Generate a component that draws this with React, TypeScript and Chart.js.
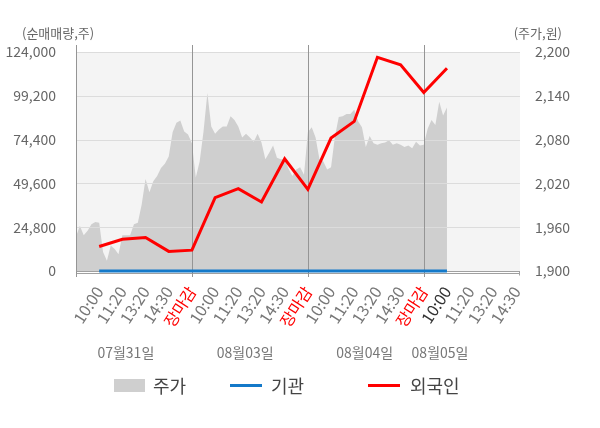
import React, { useEffect, useRef } from 'react';
import { Chart, registerables } from 'chart.js';

Chart.register(...registerables);

// label slots on the x axis (one per red/blue point)
const X_LABELS = [
    '10:00', '11:20', '13:20', '14:30', '장마감',
    '10:00', '11:20', '13:20', '14:30', '장마감',
    '10:00', '11:20', '13:20', '14:30', '장마감',
    '10:00', '11:20', '13:20', '14:30',
];
const DAY_LABELS = ['07월31일', '08월03일', '08월04일', '08월05일'];

// 주가 (원), 6 samples per label slot, starting at the market open of day 1
const PRICE = [
    1947, 1962, 1949, 1955, 1964, 1967, 1966, 1926, 1914, 1935,
    1930, 1923, 1949, 1949, 1949, 1964, 1966, 1991, 2026, 2008,
    2023, 2030, 2041, 2047, 2057, 2090, 2103, 2106, 2091, 2087,
    2075, 2028, 2050, 2091, 2144, 2098, 2088, 2094, 2098, 2098,
    2112, 2107, 2098, 2083, 2088, 2083, 2077, 2088, 2076, 2053,
    2062, 2072, 2055, 2053, 2053, 2040, 2030, 2039, 2042, 2032,
    2090, 2097, 2083, 2053, 2050, 2039, 2042, 2084, 2111, 2112,
    2115, 2115, 2121, 2105, 2097, 2070, 2085, 2075, 2073, 2075,
    2076, 2079, 2073, 2075, 2073, 2070, 2072, 2068, 2077, 2072,
    2073, 2095, 2107, 2100, 2132, 2113, 2124,
];
const SAMPLES_PER_SLOT = 6;

// 순매매량 (주), one value per label slot from the first 10:00
const INSTITUTION = [0, 0, 0, 0, 0, 0, 0, 0, 0, 0, 0, 0, 0, 0, 0, 0];
const FOREIGN = [
    13900, 18000, 19000, 11100, 11800, 41500, 46600, 39100,
    63500, 46200, 75300, 84700, 121000, 116700, 101100, 114800,
];

const VOLUME_TICKS = [0, 24800, 49600, 74400, 99200, 124000];
const PRICE_TICKS = [1900, 1960, 2020, 2080, 2140, 2200];

const FONT = "'Noto Sans CJK KR', 'Noto Sans', sans-serif";
const fmt = (v: number) => Number(v).toLocaleString('en-US');

const framePlugin = {
    id: 'frame',
    beforeDraw(chart: any) {
        const { ctx, chartArea: a } = chart;
        ctx.save();
        ctx.fillStyle = '#f4f4f4';
        ctx.fillRect(a.left, a.top, a.right - a.left, a.bottom - a.top);
        ctx.restore();
    },
    afterDatasetDraw(chart: any, args: any) {
        if (args.index !== 0) return;
        const { ctx, chartArea: a } = chart;
        const xs = chart.scales.x;
        const ys = chart.scales.y;
        ctx.save();
        ctx.lineWidth = 1;
        // horizontal grid
        ctx.strokeStyle = '#dcdcdc';
        VOLUME_TICKS.slice(1).forEach((v) => {
            const y = Math.round(ys.getPixelForValue(v)) + 0.5;
            ctx.beginPath();
            ctx.moveTo(a.left, y);
            ctx.lineTo(a.right, y);
            ctx.stroke();
        });
        // bottom lines
        ctx.strokeStyle = '#a0a0a0';
        const b = Math.round(a.bottom) + 0.5;
        [b, b + 2].forEach((y) => {
            ctx.beginPath();
            ctx.moveTo(a.left, y);
            ctx.lineTo(a.right, y);
            ctx.stroke();
        });
        ctx.beginPath();
        ctx.moveTo(a.right - 0.5, b);
        ctx.lineTo(a.right - 0.5, b + 4);
        ctx.stroke();
        // day dividers
        ctx.strokeStyle = '#959595';
        [0, 5, 10, 15].forEach((s) => {
            const x = Math.round(xs.getPixelForValue(s)) + 0.5;
            ctx.beginPath();
            ctx.moveTo(x, a.top - 7);
            ctx.lineTo(x, a.bottom + 6);
            ctx.stroke();
        });
        ctx.restore();
    },
    afterDraw(chart: any) {
        const { ctx, chartArea: a } = chart;
        const xs = chart.scales.x;
        ctx.save();
        ctx.font = `13px ${FONT}`;
        ctx.fillStyle = '#666';
        ctx.textBaseline = 'middle';
        ctx.textAlign = 'left';
        ctx.fillText('(순매매량,주)', 22, 33);
        ctx.textAlign = 'right';
        ctx.fillText('(주가,원)', 562, 33);
        ctx.font = `14px ${FONT}`;
        ctx.fillStyle = '#777';
        ctx.textAlign = 'center';
        const centers = [2.15, 7.3, 12.45, 15.7];
        DAY_LABELS.forEach((t, i) => {
            ctx.fillText(t, xs.getPixelForValue(centers[i]), a.bottom + 82);
        });
        ctx.restore();
    },
};

export default function App() {
    const canvasRef = useRef<HTMLCanvasElement | null>(null);
    const chartRef = useRef<Chart | null>(null);

    useEffect(() => {
        const ctx = canvasRef.current?.getContext('2d');
        if (!ctx) return;
        if (chartRef.current) chartRef.current.destroy();

        chartRef.current = new Chart(ctx, {
            type: 'line',
            data: {
                datasets: [
                    {
                        label: '주가',
                        data: PRICE.map((p, i) => ({ x: i / SAMPLES_PER_SLOT, y: p })),
                        yAxisID: 'y1',
                        fill: 'start',
                        backgroundColor: '#cfcfcf',
                        borderWidth: 0,
                        pointRadius: 0,
                        tension: 0,
                        order: 3,
                    },
                    {
                        label: '기관',
                        data: INSTITUTION.map((v, i) => ({ x: i + 1, y: v })),
                        yAxisID: 'y',
                        borderColor: '#1479c9',
                        borderWidth: 3,
                        pointRadius: 0,
                        fill: false,
                        clip: 6,
                        order: 2,
                    },
                    {
                        label: '외국인',
                        data: FOREIGN.map((v, i) => ({ x: i + 1, y: v })),
                        yAxisID: 'y',
                        borderColor: '#ff0000',
                        borderWidth: 3,
                        pointRadius: 0,
                        fill: false,
                        clip: 6,
                        order: 1,
                    },
                ],
            },
            options: {
                responsive: false,
                animation: false,
                layout: { padding: { top: 52, left: 0, right: 0, bottom: 0 } },
                plugins: {
                    legend: { display: false },
                    tooltip: { enabled: false },
                },
                scales: {
                    x: {
                        type: 'linear',
                        min: 0,
                        max: 19.15,
                        grid: { display: false },
                        border: { display: false },
                        afterBuildTicks: (s: any) => {
                            s.ticks = X_LABELS.map((_, i) => ({ value: i + 1 }));
                        },
                        afterFit: (s: any) => {
                            s.height = 157;
                        },
                        ticks: {
                            autoSkip: false,
                            minRotation: 57,
                            maxRotation: 57,
                            padding: 4,
                            font: { family: FONT, size: 16 },
                            callback: (v: any) => X_LABELS[Math.round(v) - 1] ?? '',
                            color: (c: any) => {
                                const i = Math.round(c.tick.value) - 1;
                                if (X_LABELS[i] === '장마감') return '#ff0000';
                                if (i === FOREIGN.length - 1) return '#333333';
                                return '#777777';
                            },
                        },
                    },
                    y: {
                        position: 'left',
                        min: 0,
                        max: 124000,
                        grid: { display: false },
                        border: { display: false },
                        afterBuildTicks: (s: any) => {
                            s.ticks = VOLUME_TICKS.map((v) => ({ value: v }));
                        },
                        afterFit: (s: any) => {
                            s.width = 76;
                        },
                        ticks: {
                            padding: 12,
                            color: '#666',
                            font: { family: FONT, size: 14 },
                            callback: (v: any) => fmt(v),
                        },
                    },
                    y1: {
                        position: 'right',
                        min: 1900,
                        max: 2200,
                        grid: { display: false },
                        border: { display: false },
                        afterBuildTicks: (s: any) => {
                            s.ticks = PRICE_TICKS.map((v) => ({ value: v }));
                        },
                        afterFit: (s: any) => {
                            s.width = 80;
                        },
                        ticks: {
                            padding: 7,
                            color: '#666',
                            font: { family: FONT, size: 14 },
                            callback: (v: any) => fmt(v),
                        },
                    },
                },
            },
            plugins: [framePlugin],
        } as any);

        return () => {
            if (chartRef.current) {
                chartRef.current.destroy();
                chartRef.current = null;
            }
        };
    }, []);

    const text: React.CSSProperties = {
        position: 'absolute',
        top: 374,
        lineHeight: '22px',
        fontSize: 18,
        fontFamily: FONT,
        color: '#444',
    };

    return (
        <div style={{ position: 'absolute', left: 0, top: 0, width: 600, height: 428, background: '#fff' }}>
            <canvas ref={canvasRef} width={600} height={428} style={{ width: 600, height: 428 }} />
            <div style={{ position: 'absolute', left: 114, top: 379, width: 31, height: 13, background: '#cfcfcf' }} />
            <div style={{ ...text, left: 153 }}>주가</div>
            <div style={{ position: 'absolute', left: 230, top: 384, width: 32, height: 3, background: '#1479c9' }} />
            <div style={{ ...text, left: 271 }}>기관</div>
            <div style={{ position: 'absolute', left: 368, top: 384, width: 32, height: 3, background: '#ff0000' }} />
            <div style={{ ...text, left: 410 }}>외국인</div>
        </div>
    );
}
